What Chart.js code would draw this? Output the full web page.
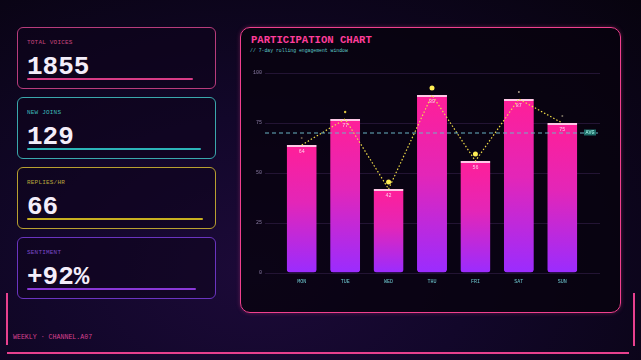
<!DOCTYPE html>
<html>
<head>
<meta charset="utf-8">
<script src="https://cdn.jsdelivr.net/npm/chart.js@4.4.0/dist/chart.umd.min.js"></script>
<style>
  html, body { margin: 0; padding: 0; }
  body {
    width: 641px; height: 360px; overflow: hidden; position: relative;
    background: radial-gradient(ellipse at 40% 75%, #1c0a38 0%, #12072a 40%, #07030e 100%);
    font-family: "Liberation Mono", "DejaVu Sans Mono", monospace;
  }
  .card {
    position: absolute; left: 17px; width: 199px; height: 62px;
    border: 1px solid; border-radius: 6px; box-sizing: border-box;
    background: rgba(14, 4, 28, 0.55);
  }
  .card .lbl { position: absolute; left: 9px; top: 11px; font-size: 6px; letter-spacing: 0.2px; }
  .card .val { position: absolute; left: 9px; top: 24px; font-size: 26px; font-weight: bold; color: #f4eefa; line-height: 30px; }
  .card .bar { position: absolute; left: 9px; top: 50px; height: 2px; border-radius: 1px; }
  #panel {
    position: absolute; left: 240px; top: 27px; width: 381px; height: 286px;
    border: 1.5px solid #f0408e; border-radius: 10px; box-sizing: border-box;
    background: rgba(8, 2, 14, 0.8);
    box-shadow: 0 0 4px rgba(240, 64, 142, 0.35);
  }
  #title { position: absolute; left: 251px; top: 34px; font-size: 10.6px; font-weight: bold; color: #ff3d9a; }
  #sub { position: absolute; left: 250px; top: 48px; font-size: 4.8px; color: #5fc8c8; }
  #wrap { position: absolute; left: 241px; top: 60px; width: 378px; height: 240px; }
  .vline { position: absolute; width: 2px; background: #e8408e; }
  #hline { position: absolute; left: 7px; top: 352px; width: 622px; height: 2px; background: #e8408e; }
  #foot { position: absolute; left: 13px; top: 334px; font-size: 6.6px; color: #d8408e; }
</style>
</head>
<body>
<div class="card" style="top:27px;border-color:#b83c7c;">
  <div class="lbl" style="color:#c8447e;">TOTAL VOICES</div>
  <div class="val">1855</div>
  <div class="bar" style="width:166px;background:#d83c86;"></div>
</div>
<div class="card" style="top:97px;border-color:#3aa8ac;">
  <div class="lbl" style="color:#3cb8b8;">NEW JOINS</div>
  <div class="val">129</div>
  <div class="bar" style="width:174px;background:#2cb4b8;"></div>
</div>
<div class="card" style="top:167px;border-color:#b8a030;">
  <div class="lbl" style="color:#b8a43c;">REPLIES/HR</div>
  <div class="val">66</div>
  <div class="bar" style="width:176px;background:#c8b020;"></div>
</div>
<div class="card" style="top:237px;border-color:#6a34c0;">
  <div class="lbl" style="color:#7a48c8;">SENTIMENT</div>
  <div class="val">+92%</div>
  <div class="bar" style="width:169px;background:#8a38d8;"></div>
</div>

<div class="vline" style="left:6px;top:293px;height:52px;"></div>
<div class="vline" style="left:633px;top:293px;height:53px;"></div>
<div id="hline"></div>
<div id="foot">WEEKLY · CHANNEL.A07</div>

<div id="panel"></div>
<div id="title">PARTICIPATION CHART</div>
<div id="sub">// 7-day rolling engagement window</div>
<div id="wrap"><canvas id="chart"></canvas></div>

<script>
// days of the week on the x axis
let days = ["MON", "TUE", "WED", "THU", "FRI", "SAT", "SUN"];

// participation per day (bars and dashed trend line)
let participation = [64, 77, 42, 89, 56, 87, 75];

// peak markers drawn above each bar
let peaks = [67.5, 80.5, 45.5, 92.5, 59.5, 90.5, 78.5];
let peakSizes = [1, 1.2, 2.5, 2.5, 2.5, 1, 1];
let peakColours = ["#6a5a48", "#d8c040", "#ffee55", "#ffee55", "#ffee55", "#a89c88", "#7a7060"];

// weekly average reference line
let average = 70;
let averageLabel = "AVG";

let gridColour = "#231434";
const mono = "'Liberation Mono', 'DejaVu Sans Mono', monospace";

function barGradient(context) {
    const chart = context.chart;
    if (!chart.chartArea || !chart.scales.y) {
        return "#e82aa8";
    }
    const yScale = chart.scales.y;
    const top = yScale.getPixelForValue(context.raw);
    const bottom = yScale.getPixelForValue(0);
    const g = chart.ctx.createLinearGradient(0, top, 0, bottom);
    g.addColorStop(0, "#ff1f98");
    g.addColorStop(0.45, "#e326b8");
    g.addColorStop(1, "#9a2cff");
    return g;
}

// dashed average line + small label box
const averagePlugin = {
    id: "averageLine",
    afterDatasetsDraw(chart) {
        const ctx = chart.ctx;
        const y = chart.scales.y.getPixelForValue(average);
        const left = chart.chartArea.left - 15;
        const right = chart.chartArea.right + 16;
        ctx.save();
        ctx.strokeStyle = "#6ab4c4";
        ctx.lineWidth = 1;
        ctx.setLineDash([4, 3]);
        ctx.beginPath();
        ctx.moveTo(left, y);
        ctx.lineTo(right, y);
        ctx.stroke();
        ctx.setLineDash([]);
        ctx.font = "5px " + mono;
        const w = ctx.measureText(averageLabel).width + 3;
        ctx.fillStyle = "#1c6a66";
        ctx.fillRect(right - w - 4, y - 3.5, w, 6);
        ctx.fillStyle = "#a8fff0";
        ctx.textBaseline = "middle";
        ctx.fillText(averageLabel, right - w - 2.5, y - 0.5);
        ctx.restore();
    }
};

// value labels just under each bar's top
const barLabelPlugin = {
    id: "barLabels",
    afterDatasetsDraw(chart) {
        const ctx = chart.ctx;
        const meta = chart.getDatasetMeta(0);
        ctx.save();
        ctx.font = "5px " + mono;
        ctx.fillStyle = "#ffd2ec";
        ctx.textAlign = "center";
        ctx.textBaseline = "middle";
        meta.data.forEach((bar, i) => {
            ctx.fillText(String(participation[i]), bar.x, bar.y + 7);
        });
        ctx.restore();
    }
};

new Chart("chart", {
    data: {
        labels: days,
        datasets: [
            {
                type: "bar",
                data: participation,
                backgroundColor: barGradient,
                borderColor: "#ffc8e6",
                borderWidth: { top: 2, left: 0, right: 0, bottom: 0 },
                borderSkipped: false,
                borderRadius: { topLeft: 0, topRight: 0, bottomLeft: 3, bottomRight: 3 },
                barPercentage: 0.69,
                categoryPercentage: 1,
                order: 3
            },
            {
                type: "line",
                data: participation,
                borderColor: "#f0dc48",
                borderWidth: 1.2,
                borderDash: [1.5, 2],
                pointRadius: 0,
                tension: 0,
                fill: false,
                order: 1
            },
            {
                type: "line",
                data: peaks,
                showLine: false,
                pointRadius: peakSizes,
                pointBackgroundColor: peakColours,
                pointBorderWidth: 0,
                order: 0
            }
        ]
    },
    options: {
        responsive: true,
        maintainAspectRatio: false,
        animation: false,
        layout: { padding: { top: 13, bottom: 0, left: 0, right: 0 } },
        plugins: {
            legend: { display: false },
            tooltip: { enabled: false }
        },
        scales: {
            x: {
                grid: { display: false, drawTicks: false },
                border: { display: false },
                ticks: { color: "#6cc4cc", font: { size: 5, family: mono }, padding: 6 },
                afterFit(scale) { scale.height = 27; }
            },
            y: {
                min: 0,
                max: 100,
                ticks: { stepSize: 25, color: "#8a7ca4", font: { size: 5, family: mono }, padding: 3 },
                grid: { color: gridColour, tickLength: 15, tickColor: gridColour, lineWidth: 1 },
                border: { display: false },
                afterFit(scale) { scale.width = 39; }
            },
            y2: {
                position: "right",
                min: 0,
                max: 100,
                ticks: { stepSize: 25, display: false },
                grid: { drawOnChartArea: false, tickLength: 16, tickColor: gridColour },
                border: { display: false },
                afterFit(scale) { scale.width = 35; }
            }
        }
    },
    plugins: [averagePlugin, barLabelPlugin]
});
</script>
</body>
</html>
